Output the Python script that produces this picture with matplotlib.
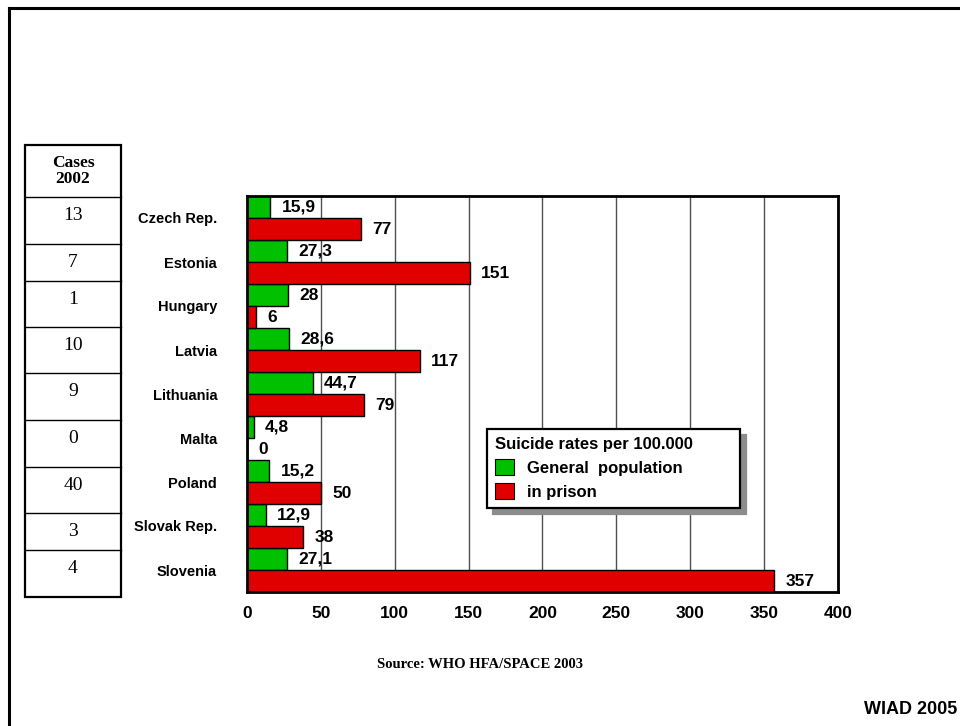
import matplotlib
matplotlib.use('Agg')
import matplotlib.pyplot as plt
from matplotlib.lines import Line2D
from matplotlib.patches import Patch

countries = ['Czech Rep.', 'Estonia', 'Hungary', 'Latvia', 'Lithuania',
             'Malta', 'Poland', 'Slovak Rep.', 'Slovenia']
general_pop = [15.9, 27.3, 28, 28.6, 44.7, 4.8, 15.2, 12.9, 27.1]
in_prison = [77, 151, 6, 117, 79, 0, 50, 38, 357]
cases_2002 = [13, 7, 1, 10, 9, 0, 40, 3, 4]
x_ticks = [0, 50, 100, 150, 200, 250, 300, 350, 400]

GREEN = '#00c000'
RED = '#e00000'
SANS = ['Liberation Sans', 'DejaVu Sans']
SERIF = ['Liberation Serif', 'DejaVu Serif']

W, H = 960, 726
fig = plt.figure(figsize=(W / 100, H / 100), dpi=100)


def px_axes(x0, y0, x1, y1):
    # axes from pixel box (top-left origin)
    return fig.add_axes([x0 / W, 1 - y1 / H, (x1 - x0) / W, (y1 - y0) / H])


# outer slide frame (only left and top edge visible)
fig.add_artist(Line2D([8.5 / W, 8.5 / W], [0, 1 - 7.5 / H], color='black', lw=2.2,
                      transform=fig.transFigure))
fig.add_artist(Line2D([8.5 / W, 1], [1 - 7.5 / H, 1 - 7.5 / H], color='black', lw=2.2,
                      transform=fig.transFigure))

# main chart
ax = px_axes(247, 196, 838, 592)
ypos = list(range(len(countries)))
ax.barh([y - 0.25 for y in ypos], general_pop, height=0.5, color=GREEN,
        edgecolor='black', linewidth=1, zorder=3)
ax.barh([y + 0.25 for y in ypos], in_prison, height=0.5, color=RED,
        edgecolor='black', linewidth=1, zorder=3)

for y, g, p in zip(ypos, general_pop, in_prison):
    ax.annotate(f'{g:g}'.replace('.', ','), (g, y - 0.25), xytext=(8, 0),
                textcoords='offset points', va='center', ha='left',
                fontsize=12.5, fontweight='bold', family=SANS, zorder=4)
    ax.annotate(f'{p:g}', (p, y + 0.25), xytext=(8, 0),
                textcoords='offset points', va='center', ha='left',
                fontsize=12.5, fontweight='bold', family=SANS, zorder=4)

ax.set_xlim(0, 400)
ax.set_ylim(len(countries) - 0.5, -0.5)
ax.set_xticks(x_ticks)
ax.set_xticklabels([str(t) for t in x_ticks], fontsize=12.5, fontweight='bold',
                   family=SANS)
ax.set_yticks(ypos)
ax.set_yticklabels(countries, fontsize=10.5, fontweight='bold', family=SANS)
ax.tick_params(axis='x', length=0, pad=10)
ax.tick_params(axis='y', length=0, pad=21.5)
ax.grid(axis='x', color='#505050', lw=1, zorder=1)
for sp in ax.spines.values():
    sp.set_linewidth(2)
    sp.set_zorder(5)

leg = ax.legend(handles=[Patch(facecolor=GREEN, edgecolor='black', lw=0.8),
                         Patch(facecolor=RED, edgecolor='black', lw=0.8)],
                labels=['General  population', 'in prison'],
                title='Suicide rates per 100.000', alignment='left',
                loc='upper left', bbox_to_anchor=(0.406, 0.212, 0.428, 0.2),
                mode='expand', borderaxespad=0,
                prop={'family': SANS, 'weight': 'bold', 'size': 12},
                title_fontproperties={'family': SANS, 'weight': 'bold', 'size': 12},
                handlelength=1.1, handleheight=1.1, handletextpad=0.8,
                labelspacing=0.42, borderpad=0.5, fancybox=False,
                edgecolor='black', framealpha=1,
                shadow={'ox': 4.5, 'oy': -4.5, 'color': '0.55', 'alpha': 1})
leg.get_frame().set_linewidth(1.6)
leg.set_zorder(6)

# cases table on the left
tab = px_axes(25, 145, 121, 597)
tab.set_xlim(0, 1)
tab.set_ylim(597, 145)
tab.axis('off')
row_edges = [145, 197, 244, 281, 327, 373, 420, 467, 513, 550, 597]
tab.add_patch(plt.Rectangle((0, 145), 1, 452, fill=False, edgecolor='black',
                            lw=1.6, clip_on=False))
for e in row_edges[1:-1]:
    tab.plot([0, 1], [e, e], color='black', lw=1, clip_on=False)
tab.text(0.5, 171, 'Cases\n2002', ha='center', va='center', fontsize=12.5,
         fontweight='bold', family=SERIF, linespacing=1.0)
for top, n in zip(row_edges[1:-1], cases_2002):
    tab.text(0.5, top + 10, str(n), ha='center', va='top', fontsize=14,
             family=SERIF)

fig.text(480 / W, 1 - 664 / H, 'Source: WHO HFA/SPACE 2003', ha='center',
         va='center', fontsize=10.5, fontweight='bold', family=SERIF)
fig.text(957 / W, 1 - 710 / H, 'WIAD 2005', ha='right', va='center',
         fontsize=13, fontweight='bold', family=SANS)

fig.savefig('out.png', dpi=100)
